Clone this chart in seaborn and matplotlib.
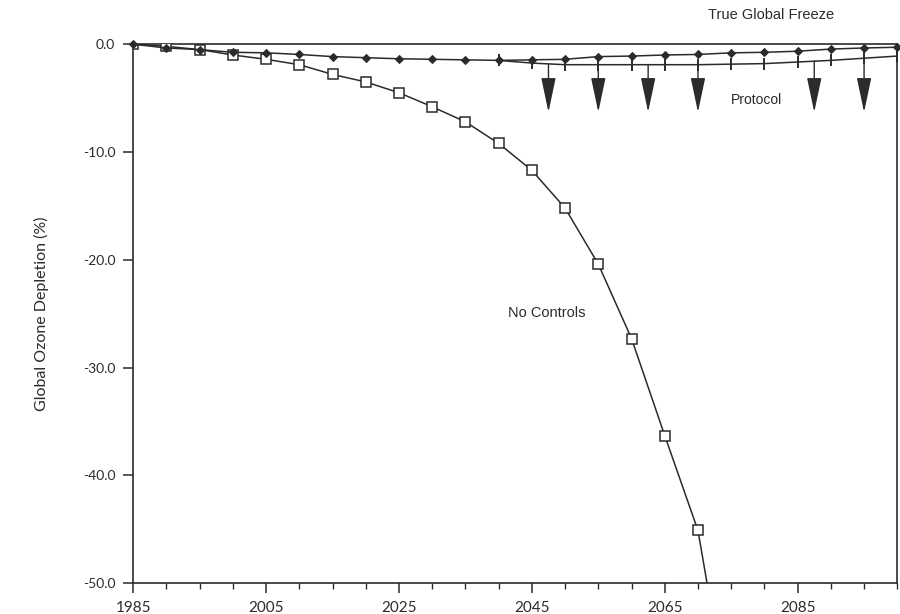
import numpy as np
import pandas as pd
import seaborn as sns
import matplotlib.pyplot as plt
from matplotlib.ticker import MultipleLocator

# values (percent ozone change)
years = list(range(1985, 2101, 5))
no_controls = [0.0, -0.2, -0.5, -1.0, -1.4, -1.9, -2.8, -3.5, -4.5, -5.8, -7.2, -9.2,
               -11.7, -15.2, -20.4, -27.3, -36.3, -45.1, -63.0]
freeze = [0.0, -0.35, -0.5, -0.75, -0.8, -0.95, -1.15, -1.25, -1.35, -1.4, -1.45, -1.5,
          -1.45, -1.4, -1.15, -1.1, -1.0, -0.95, -0.8, -0.75, -0.65, -0.45, -0.35, -0.28]
protocol_years = list(range(2040, 2101, 5))
protocol = [-1.5, -1.75, -1.9, -1.9, -1.9, -1.9, -1.9, -1.85, -1.8, -1.65, -1.5, -1.3, -1.1]
arrow_years = [2047.5, 2055, 2062.5, 2070, 2087.5, 2095]
arrow_tip = -6.3

nc_df = pd.DataFrame({'year': years[:len(no_controls)], 'depletion': no_controls})
fr_df = pd.DataFrame({'year': years, 'depletion': freeze})
pr_df = pd.DataFrame({'year': protocol_years, 'depletion': protocol})

sns.set_style('ticks')
plt.rcParams['font.family'] = ['Liberation Sans', 'DejaVu Sans']

ink = '#2b2b2b'
fig = plt.figure(figsize=(9, 6.14), dpi=100)
ax = fig.add_axes([0.148, 0.05, 0.849, 0.878])

sns.lineplot(data=nc_df, x='year', y='depletion', ax=ax, color=ink, lw=1.1,
             marker='s', markersize=7, markerfacecolor='white', markeredgecolor=ink,
             markeredgewidth=1.1, zorder=3)
sns.lineplot(data=pr_df, x='year', y='depletion', ax=ax, color=ink, lw=1.1,
             marker='|', markersize=9, markeredgecolor=ink, markeredgewidth=1.4, zorder=4)
sns.lineplot(data=fr_df, x='year', y='depletion', ax=ax, color=ink, lw=1.1,
             marker='D', markersize=4.5, markeredgecolor=ink, zorder=5, clip_on=False)

for yr in arrow_years:
    start = np.interp(yr, protocol_years, protocol)
    ax.annotate('', xy=(yr, arrow_tip), xytext=(yr, start),
                arrowprops=dict(arrowstyle='-|>,head_length=1.8,head_width=0.38',
                                mutation_scale=12, color=ink, lw=1.0,
                                shrinkA=0, shrinkB=0))

ax.text(2081, 2.7, 'True Global Freeze', ha='center', va='center', fontsize=10.5,
        color=ink, clip_on=False)
ax.text(2078.8, -5.2, 'Protocol', ha='center', va='center', fontsize=10, color=ink)
ax.text(2047.3, -24.9, 'No Controls', ha='center', va='center', fontsize=10.5, color=ink)

ax.set_xlim(1985, 2100)
ax.set_ylim(-50, 0)
ax.xaxis.set_minor_locator(MultipleLocator(5))
ax.set_xticks([1985, 2005, 2025, 2045, 2065, 2085])
ax.set_xticklabels(['1985', '2005', '2025', '2045', '2065', '2085'], family='Lato',
                   fontsize=11)
ax.set_yticks([0, -10, -20, -30, -40, -50])
ax.set_yticklabels(['0.0', '-10.0', '-20.0', '-30.0', '-40.0', '-50.0'], family='Lato',
                   fontsize=10)
ax.tick_params(axis='both', which='major', direction='out', length=7, width=1.1,
               colors=ink, pad=6)
ax.tick_params(axis='x', which='minor', direction='out', length=4, width=1.0, colors=ink)
ax.set_xlabel('')
ax.set_ylabel('Global Ozone Depletion (%)', family='Lato', fontsize=11.5, color=ink,
              labelpad=24)
for s in ax.spines.values():
    s.set_color(ink)
    s.set_linewidth(1.2)

fig.savefig('out.png', dpi=100, facecolor='white')
